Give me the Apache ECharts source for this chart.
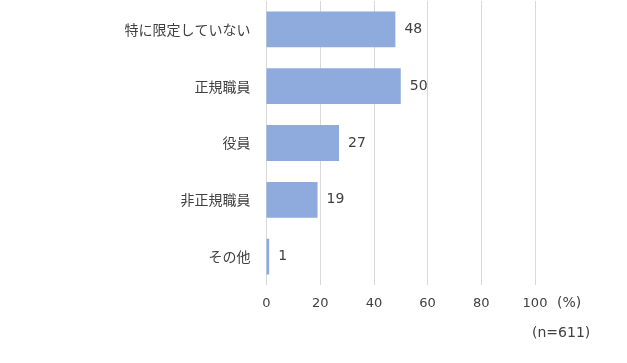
<!DOCTYPE html>
<html><head><meta charset="utf-8">
<script src="https://cdn.jsdelivr.net/npm/echarts@6/dist/echarts.min.js"></script>
<style>html,body{margin:0;padding:0;background:#fff}#c{width:627px;height:363px}</style>
</head><body><div id="c"></div>
<script>
const categories = ['特に限定していない', '正規職員', '役員', '非正規職員', 'その他'];
const values = [48, 50, 27, 19, 1];
const xTicks = [0, 20, 40, 60, 80, 100];
const font = '"Noto Sans CJK JP", "Noto Sans", sans-serif';
const numFont = '"DejaVu Sans", sans-serif';
const chart = echarts.init(document.getElementById('c'));
chart.setOption({
  animation: false,
  grid: { left: 266.5, right: 92, top: 1, bottom: 78, containLabel: false },
  xAxis: {
    type: 'value', min: 0, max: 100, interval: 20,
    axisLine: { show: false }, axisTick: { show: false },
    splitLine: { lineStyle: { color: '#d9d9d9', width: 1 } },
    axisLabel: { color: '#404040', fontSize: 13, fontFamily: numFont, margin: 12,
      formatter: v => xTicks.includes(v) ? String(v) : '' }
  },
  yAxis: {
    type: 'category', data: categories, inverse: true,
    axisLine: { show: false }, axisTick: { show: false },
    axisLabel: { color: '#404040', fontSize: 14, fontFamily: font, margin: 16 }
  },
  series: [{
    type: 'bar', data: values, barWidth: '63%',
    itemStyle: { color: '#8FAADC' },
    label: { show: true, position: 'right', distance: 9, color: '#404040', fontSize: 14, fontFamily: numFont }
  }],
  graphic: [
    { type: 'text', left: 557, top: 296, style: { text: '(%)', fill: '#404040', font: '14px ' + numFont } },
    { type: 'text', left: 532, top: 326, style: { text: '(n=611)', fill: '#404040', font: '14px ' + numFont } }
  ]
});
</script></body></html>
